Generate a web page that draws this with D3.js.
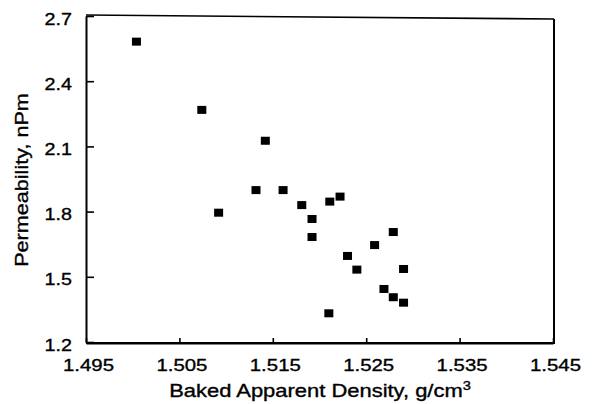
<!DOCTYPE html>
<html>
<head>
<meta charset="utf-8">
<script src="https://cdn.jsdelivr.net/npm/d3@7"></script>
<style>
  html, body { margin: 0; padding: 0; background: #fff; }
  svg { display: block; }
  text { font-family: "Liberation Sans", Arial, Helvetica, sans-serif; fill: #000; stroke: #000; stroke-width: 0.35px; }
</style>
</head>
<body>
<svg id="chart" width="592" height="404"></svg>
<script>
// Baked apparent density (g/cm3) of each sample
const density = [
  1.5004, 1.5074, 1.5142, 1.5132, 1.5161, 1.5092, 1.5181, 1.5211, 1.5222, 1.5192,
  1.5192, 1.5279, 1.5259, 1.5230, 1.5240, 1.5290, 1.5269, 1.5279, 1.5290, 1.5210
];
// Measured permeability (nPm) of the same samples
const permeability = [
  2.582, 2.268, 2.126, 1.899, 1.899, 1.795, 1.830, 1.846, 1.869, 1.766,
  1.683, 1.706, 1.646, 1.596, 1.533, 1.536, 1.444, 1.406, 1.381, 1.332
];
const xTicks = [1.495, 1.505, 1.515, 1.525, 1.535, 1.545];
const yTicks = [1.2, 1.5, 1.8, 2.1, 2.4, 2.7];
const xTitle = "Baked Apparent Density, g/cm";
const xTitleSup = "3";
const yTitle = "Permeability, nPm";

const svg = d3.select("#chart");

const x = d3.scaleLinear().domain([1.495, 1.545]).range([86, 553]);
const y = d3.scaleLinear().domain([1.2, 2.7]).range([342, 16]);

const x0 = x(1.495), x1 = x(1.545) + 1;
const yb = y(1.2) + 1, yt = y(2.7) - 1;

// plot frame (top edge runs slightly downhill to the right)
svg.append("path")
  .attr("d", `M${x0},${yb}L${x1},${yb}L${x1},${yt + 4}`)
  .attr("fill", "none").attr("stroke", "#000").attr("stroke-width", 2);
svg.append("line")
  .attr("x1", x0).attr("y1", yt).attr("x2", x1).attr("y2", yt + 4)
  .attr("stroke", "#000").attr("stroke-width", 1.6);

// x axis: ticks pointing into the plot
const xAxis = d3.axisBottom(x).tickValues(xTicks).tickSizeInner(-5).tickSizeOuter(0)
  .tickFormat(d3.format(".3f"));
const gx = svg.append("g").attr("transform", `translate(0,${yb})`).call(xAxis);
gx.select(".domain").attr("stroke", "#000").attr("stroke-width", 2);
gx.selectAll(".tick line").attr("stroke", "#000").attr("stroke-width", 1.6);
gx.selectAll(".tick text")
  .attr("font-size", 17)
  .attr("y", 0)
  .attr("dy", 0)
  .attr("transform", "translate(2,28) scale(1.2,1)");

// y axis: ticks pointing into the plot
const yAxis = d3.axisLeft(y).tickValues(yTicks).tickSizeInner(-8).tickSizeOuter(0)
  .tickFormat(d3.format(".1f"));
const gy = svg.append("g").attr("transform", `translate(${x0},0)`).call(yAxis);
gy.select(".domain").attr("stroke", "#000").attr("stroke-width", 2);
gy.selectAll(".tick line").attr("stroke", "#000").attr("stroke-width", 1.6);
gy.selectAll(".tick text")
  .attr("font-size", 17)
  .attr("x", 0)
  .attr("dy", 0)
  .attr("text-anchor", "end")
  .attr("transform", "translate(-14,8) scale(1.16,1)");
svg.selectAll(".tick text").attr("fill", "#000").attr("font-family", "Liberation Sans, Arial, sans-serif");

// axis titles
const xt = svg.append("text")
  .attr("text-anchor", "middle")
  .attr("font-size", 18)
  .attr("transform", "translate(320,397) scale(1.22,1)");
xt.append("tspan").text(xTitle);
xt.append("tspan").text(xTitleSup).attr("font-size", 12).attr("dy", -7);

svg.append("text")
  .attr("text-anchor", "middle")
  .attr("font-size", 18)
  .attr("transform", "translate(28,180) rotate(-90) scale(1.2,1)")
  .text(yTitle);

// data markers
const pts = density.map((d, i) => ({ x: d, y: permeability[i] }));
svg.append("g").selectAll("rect").data(pts).join("rect")
  .attr("x", d => x(d.x) - 4.5)
  .attr("y", d => y(d.y) - 4)
  .attr("width", 9)
  .attr("height", 8)
  .attr("fill", "#000");
</script>
</body>
</html>
